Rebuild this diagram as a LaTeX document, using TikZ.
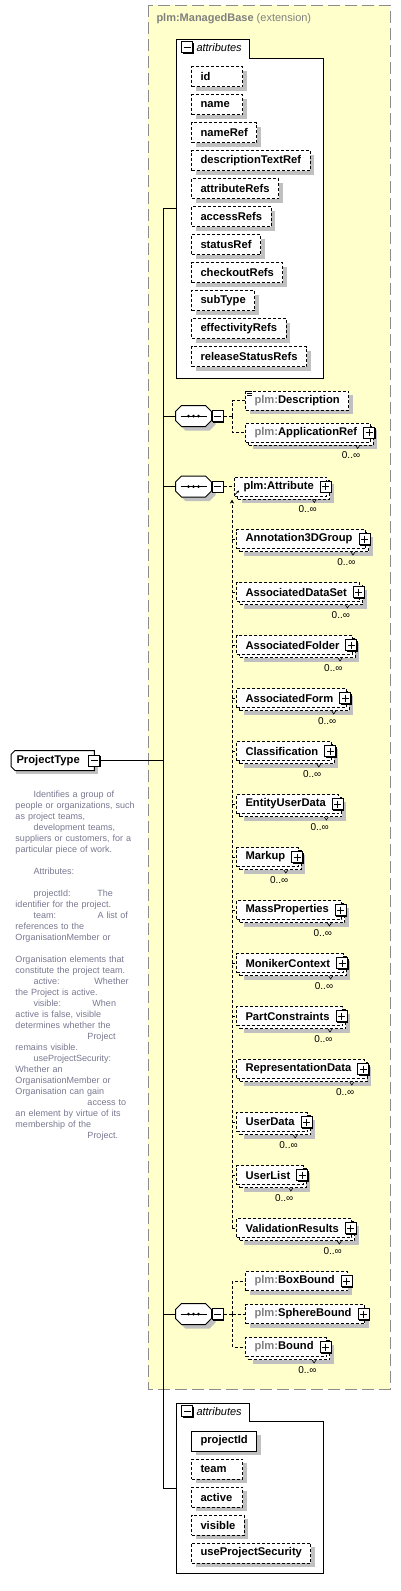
\documentclass[tikz,border=0pt]{standalone}
\usepackage{fontspec}
\setmainfont{Liberation Sans}
\usetikzlibrary{shadows,arrows.meta,positioning}

\definecolor{extfill}{RGB}{255,255,204}
\definecolor{extline}{RGB}{140,140,140}
\definecolor{nsgray}{RGB}{128,128,128}
\definecolor{docgray}{RGB}{120,120,145}
\definecolor{shade}{RGB}{192,192,192}

\newcommand{\nsprefix}[1]{\textcolor{nsgray}{#1}}
% short attribute names keep to the left of a 51pt box
\newcommand{\padl}[1]{\setbox0=\hbox{#1}\ifdim\wd0<33pt \hbox to 33pt{#1\hfil}\else\box0\fi}

\tikzset{
  grayshadow/.style={drop shadow={shadow xshift=#1,shadow yshift=-#1,draw=none,fill=shade,opacity=1}},
  link/.style={dash pattern=on 3pt off 2pt},
  attr/.style={draw,fill=white,link,grayshadow=4pt,anchor=west,font=\fontsize{11.2}{13}\selectfont\bfseries,
    minimum height=20pt,inner xsep=9pt,inner ysep=0pt},
  elem/.style={draw,fill=white,link,anchor=west,font=\fontsize{11.2}{13}\selectfont\bfseries,
    minimum height=19pt,inner xsep=9pt,inner ysep=0pt},
  one/.style={grayshadow=4pt},
  many/.style={drop shadow={shadow xshift=7pt,shadow yshift=-7pt,draw=none,fill=shade,opacity=1},
    copy shadow={shadow xshift=3pt,shadow yshift=-3pt,draw,fill=white,link}},
  boxsign/.style={draw,solid,fill=white,minimum size=11pt,inner sep=0pt,
    drop shadow={shadow xshift=1pt,shadow yshift=-1pt,draw=none,fill=black,opacity=1}},
  minusbox/.style={boxsign,path picture={
    \draw[line width=1pt] ([xshift=2pt]path picture bounding box.west) -- ([xshift=-2pt]path picture bounding box.east);}},
  plusbox/.style={boxsign,path picture={
    \draw[line width=1pt] ([xshift=2pt]path picture bounding box.west) -- ([xshift=-2pt]path picture bounding box.east)
      ([yshift=-2pt]path picture bounding box.north) -- ([yshift=2pt]path picture bounding box.south);}},
  notch/.style={line width=0.6pt,solid},
  seq/.style={minimum width=35pt,minimum height=20pt,inner sep=0pt},
  ptype/.style={fill=white,grayshadow=4pt,anchor=west,font=\fontsize{11.2}{13}\selectfont\bfseries,
    minimum height=19pt,inner xsep=5pt,inner ysep=0pt},
  card/.style={anchor=north east,inner sep=0pt,font=\fontsize{10}{12}\selectfont},
  doc/.style={anchor=north west,inner sep=0pt,text width=135pt,align=left,text=docgray,
    font=\fontsize{9}{11}\selectfont}
}

\begin{document}
\begin{tikzpicture}[x=1pt,y=-1pt,line width=1pt,font=\fontsize{11}{13}\selectfont]
  \useasboundingbox (0,0) rectangle (401,1591);

  % extension of plm:ManagedBase
  \draw[extline,fill=extfill,dash pattern=on 12pt off 5pt] (148,5) rectangle (390,1389);
  \node[anchor=west,inner sep=0pt,text=nsgray] (extTitle) at (156,19) {\textbf{plm:ManagedBase} (extension)};

  % inherited attributes
  \draw[fill=white] (176,39) -| (249,58) -| (323,378) -- (176,378) -- cycle;
  \coordinate (grpA) at (176,208.5);
  \node[minusbox] (grpAm) at (187,47) {};
  \node[anchor=west,inner sep=0pt,font=\fontsize{11}{13}\selectfont\itshape] (grpAt) at (196,48) {attributes};
  \foreach \a [count=\i] in {id,name,nameRef,descriptionTextRef,attributeRefs,accessRefs,
      statusRef,checkoutRefs,subType,effectivityRefs,releaseStatusRefs}
    \node[attr] (a\i) at (191,{76.5+28*(\i-1)}) {\padl{\a}};

  % own attributes
  \draw[fill=white] (176,1403) -| (249,1421) -| (323,1573) -- (176,1573) -- cycle;
  \coordinate (grpB) at (176,1488);
  \node[minusbox] (grpBm) at (187,1411) {};
  \node[anchor=west,inner sep=0pt,font=\fontsize{11}{13}\selectfont\itshape] (grpBt) at (196,1412) {attributes};
  \node[attr,solid] (b1) at (191,1441) {projectId};
  \foreach \a [count=\i from 2] in {team,active,visible,useProjectSecurity}
    \node[attr] (b\i) at (191,{1441+28*(\i-1)}) {\padl{\a}};

  % the complex type
  \node[ptype] (pt) at (11,760.5) {ProjectType\kern9pt};
  \draw ([xshift=4pt]pt.north west) -- (pt.north east) -- (pt.south east)
    -- ([xshift=4pt]pt.south west) -- ([yshift=4pt]pt.south west) -- ([yshift=-4pt]pt.north west) -- cycle;
  \node[minusbox] (ptm) at (pt.east) {};
  \node[doc] (ptdoc) at (15,790) {%
    \hspace*{18pt}Identifies a group of\\
    people or organizations, such\\
    as project teams,\\
    \hspace*{18pt}development teams,\\
    suppliers or customers, for a\\
    particular piece of work.\\[11pt]
    \hspace*{18pt}Attributes:\\[11pt]
    \makebox[82pt][l]{\hspace*{18pt}projectId:}The\\
    identifier for the project.\\
    \makebox[82pt][l]{\hspace*{18pt}team:}A list of\\
    references to the\\
    OrganisationMember or\\[11pt]
    Organisation elements that\\
    constitute the project team.\\
    \makebox[79pt][l]{\hspace*{18pt}active:}Whether\\
    the Project is active.\\
    \makebox[77pt][l]{\hspace*{18pt}visible:}When\\
    active is false, visible\\
    determines whether the\\
    \hspace*{72pt}Project\\
    remains visible.\\
    \hspace*{18pt}useProjectSecurity:\\
    Whether an\\
    OrganisationMember or\\
    Organisation can gain\\
    \hspace*{72pt}access to\\
    an element by virtue of its\\
    membership of the\\
    \hspace*{72pt}Project.};

  % sequences
  \node[seq] (seqA) at (193.5,416) {};
  \node[seq] (seqB) at (193.5,486.5) {};
  \node[seq] (seqC) at (193.5,1314) {};
  \foreach \s in {seqA,seqB,seqC} {
    \draw[fill=white,grayshadow=4pt] ([xshift=6pt]\s.north west) -- ([xshift=-6pt]\s.north east)
      -- ([yshift=-6pt]\s.north east) -- ([yshift=6pt]\s.south east) -- ([xshift=-6pt]\s.south east)
      -- ([xshift=6pt]\s.south west) -- ([yshift=6pt]\s.south west) -- ([yshift=-6pt]\s.north west) -- cycle;
    \draw ([xshift=-13pt]\s.center) -- ([xshift=13pt]\s.center);
    \foreach \d in {-5,0,5}
      \fill ([xshift=\d pt]\s.center) circle (1.5pt);
  }
  \node[minusbox,anchor=west] (seqAm) at (seqA.east) {};
  \node[minusbox,anchor=west] (seqBm) at (seqB.east) {};
  \node[minusbox,anchor=west] (seqCm) at (seqC.east) {};

  \draw (ptm.east) -- ++(63,0) coordinate (trunk);
  \draw (grpA) -| (trunk) |- (grpB);
  \foreach \s in {seqA,seqB,seqC}
    \draw (trunk |- \s.west) -- (\s.west);

  % first sequence
  \node[elem,one] (eDesc) at (245,400.5) {\nsprefix{plm:}Description};
  \foreach \k in {0,2,4}
    \draw[line width=0.6pt] ([xshift=2pt,yshift=-\k pt-1pt]eDesc.north west) -- ++(5,0);
  \node[elem,many] (eAppl) at (245,432.5) {\nsprefix{plm:}ApplicationRef\kern4pt};
  \node[plusbox] (eApplp) at ([xshift=-1.5pt]eAppl.east) {};
  \node[card] (eApplc) at ([xshift=-10pt,yshift=-9pt]eAppl.south east) {0..∞};
  \draw[notch] ([xshift=-15pt,yshift=-3pt]eAppl.south east) -- ++(2,3) -- ++(2,-3);
  \draw[link] (seqAm.east) -- ++(9,0) coordinate (brA);
  \draw[link] (brA) |- (eDesc.west);
  \draw[link] (brA) |- (eAppl.west);

  % second sequence
  \node[elem,many] (eAttr) at (234,486.5) {plm:Attribute\kern4pt};
  \node[plusbox] (eAttrp) at ([xshift=-1.5pt]eAttr.east) {};
  \node[card] (eAttrc) at ([xshift=-10pt,yshift=-9pt]eAttr.south east) {0..∞};
  \draw[notch] ([xshift=-15pt,yshift=-3pt]eAttr.south east) -- ++(2,3) -- ++(2,-3);
  \draw[line width=0.7pt,-{Stealth[length=2.5pt,width=2.5pt]}] ([xshift=1pt,yshift=2pt]eAttr.south west) -- ++(4,-4);
  \draw[link] (seqBm.east) -- (eAttr.west);
  \coordinate (subst) at ([xshift=-2pt,yshift=-3pt]eAttr.south west);
  \foreach \e [count=\i] in {Annotation3DGroup,AssociatedDataSet,AssociatedFolder,AssociatedForm,
      Classification,EntityUserData,Markup,MassProperties,MonikerContext,PartConstraints,
      RepresentationData,UserData,UserList,ValidationResults} {
    \node[elem,many] (m\i) at (236,{539+53*(\i-1)}) {\e\kern4pt};
    \node[plusbox] (m\i p) at ([xshift=-1.5pt]m\i.east) {};
    \node[card] (m\i c) at ([xshift=-10pt,yshift=-9pt]m\i.south east) {0..∞};
    \draw[notch] ([xshift=-15pt,yshift=-3pt]m\i.south east) -- ++(2,3) -- ++(2,-3);
    \draw[link] (m\i.west -| subst) -- (m\i.west);
  }
  \draw[link,-{Stealth[length=4pt,width=4pt]}] (m14.west -| subst) -- (subst);

  % third sequence
  \node[elem,one] (eBox) at (245,1281) {\nsprefix{plm:}BoxBound\kern4pt};
  \node[plusbox] (eBoxp) at ([xshift=-1.5pt]eBox.east) {};
  \node[elem,one] (eSph) at (245,1314) {\nsprefix{plm:}SphereBound\kern4pt};
  \node[plusbox] (eSphp) at ([xshift=-1.5pt]eSph.east) {};
  \node[elem,many] (eBnd) at (245,1347) {\nsprefix{plm:}Bound\kern4pt};
  \node[plusbox] (eBndp) at ([xshift=-1.5pt]eBnd.east) {};
  \node[card] (eBndc) at ([xshift=-10pt,yshift=-9pt]eBnd.south east) {0..∞};
  \draw[notch] ([xshift=-15pt,yshift=-3pt]eBnd.south east) -- ++(2,3) -- ++(2,-3);
  \draw[link] (seqCm.east) -- ++(9,0) coordinate (brC);
  \foreach \e in {eBox,eSph,eBnd}
    \draw[link] (brC) |- (\e.west);
\end{tikzpicture}
\end{document}
